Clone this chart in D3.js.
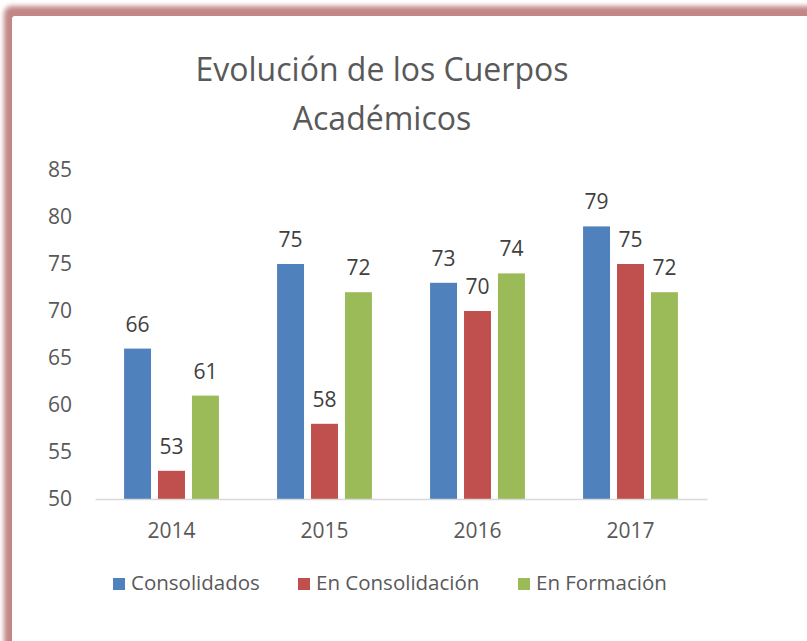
<!DOCTYPE html>
<html>
<head>
<meta charset="utf-8">
<script src="https://cdn.jsdelivr.net/npm/d3@7"></script>
<style>
  body { margin: 0; background: #fff; }
  svg { display: block; font-family: "Open Sans", sans-serif; }
</style>
</head>
<body>
<svg id="chart" width="807" height="641"></svg>
<script>
// chart data
var years = ['2014', '2015', '2016', '2017'];
var seriesNames = ['Consolidados', 'En Consolidación', 'En Formación'];
var consolidados = [66, 75, 73, 79];
var enConsolidacion = [53, 58, 70, 75];
var enFormacion = [61, 72, 74, 72];
var yTicks = [50, 55, 60, 65, 70, 75, 80, 85];
var titleLines = ['Evolución de los Cuerpos', 'Académicos'];

var colors = ['#4f81bd', '#c0504d', '#9bbb59'];
var seriesValues = [consolidados, enConsolidacion, enFormacion];

var svg = d3.select('#chart');

// pink frame shadow
var defs = svg.append('defs');
defs.append('filter').attr('id', 'blur')
  .attr('x', '-10%').attr('y', '-10%').attr('width', '120%').attr('height', '120%')
  .append('feGaussianBlur').attr('stdDeviation', 2.5);

svg.append('rect')
  .attr('x', 4).attr('y', 6).attr('width', 1000).attr('height', 1000)
  .attr('rx', 8)
  .attr('fill', '#c38686')
  .attr('filter', 'url(#blur)');
svg.append('rect')
  .attr('x', 12).attr('y', 16).attr('width', 1000).attr('height', 1000)
  .attr('rx', 3)
  .attr('fill', '#fff');

// title
svg.append('g').selectAll('text')
  .data(titleLines)
  .enter()
  .append('text')
  .attr('x', 382)
  .attr('y', function(d, i) { return 81 + i * 49; })
  .attr('text-anchor', 'middle')
  .style('font-size', '32px')
  .style('fill', '#595959')
  .text(function(d) { return d; });

var plot = {left: 95, right: 707, top: 170, bottom: 499};

var y = d3.scaleLinear().domain([50, 85]).range([plot.bottom, plot.top]);
var x0 = d3.scaleBand().domain(years).range([plot.left, plot.right])
  .paddingInner(0.38).paddingOuter(0.19);
var x1 = d3.scaleBand().domain(seriesNames).range([0, x0.bandwidth()])
  .paddingInner(0.206);

// y axis labels
var yAxis = d3.axisLeft(y).tickValues(yTicks).tickSize(0).tickPadding(0);
var yg = svg.append('g').attr('transform', 'translate(72,0)').call(yAxis);
yg.select('.domain').remove();
yg.selectAll('text')
  .style('font-family', '"Open Sans", sans-serif')
  .style('font-size', '21px')
  .style('fill', '#595959');

// bars
var groups = svg.append('g').selectAll('g')
  .data(years)
  .enter()
  .append('g')
  .attr('transform', function(d) { return 'translate(' + x0(d) + ',0)'; });

groups.selectAll('rect')
  .data(function(d, i) {
    return seriesNames.map(function(s, j) { return {name: s, value: seriesValues[j][i], k: j}; });
  })
  .enter()
  .append('rect')
  .attr('x', function(d) { return x1(d.name); })
  .attr('y', function(d) { return y(d.value); })
  .attr('width', x1.bandwidth())
  .attr('height', function(d) { return plot.bottom - y(d.value); })
  .attr('fill', function(d) { return colors[d.k]; });

groups.selectAll('text')
  .data(function(d, i) {
    return seriesNames.map(function(s, j) { return {name: s, value: seriesValues[j][i]}; });
  })
  .enter()
  .append('text')
  .attr('x', function(d) { return x1(d.name) + x1.bandwidth() / 2; })
  .attr('y', function(d) { return y(d.value) - 17; })
  .attr('text-anchor', 'middle')
  .style('font-size', '21px')
  .style('fill', '#404040')
  .text(function(d) { return d.value; });

// x axis
var xAxis = d3.axisBottom(x0).tickSize(0).tickPadding(0);
var xg = svg.append('g').attr('transform', 'translate(0,' + plot.bottom + ')').call(xAxis);
xg.select('.domain').attr('stroke', '#d9d9d9').attr('stroke-width', 1.5);
xg.selectAll('text')
  .attr('dy', 0).attr('y', 39)
  .style('font-family', '"Open Sans", sans-serif')
  .style('font-size', '21px')
  .style('fill', '#595959');

// legend
var legendX = [113, 298, 518];
var legend = svg.append('g').selectAll('g')
  .data(seriesNames)
  .enter()
  .append('g')
  .attr('transform', function(d, i) { return 'translate(' + legendX[i] + ',578)'; });
legend.append('rect')
  .attr('width', 12).attr('height', 12)
  .attr('fill', function(d, i) { return colors[i]; });
legend.append('text')
  .attr('x', 18).attr('y', 12)
  .style('font-size', '20.5px')
  .style('fill', '#595959')
  .text(function(d) { return d; });
</script>
</body>
</html>
